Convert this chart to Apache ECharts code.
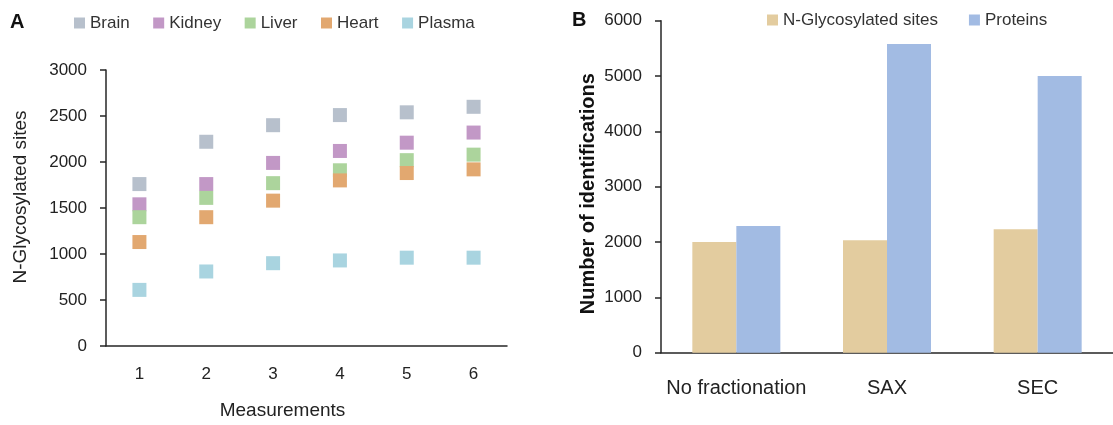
<!DOCTYPE html>
<html>
<head>
<meta charset="utf-8">
<style>
  html, body { margin: 0; padding: 0; background: #fff; }
  #chart { width: 1113px; height: 425px; }
</style>
<script src="https://cdn.jsdelivr.net/npm/echarts@6/dist/echarts.min.js"></script>
</head>
<body>
<div id="chart"></div>
<script>
// panel A: N-glycosylated sites per measurement
const measurements = ['1', '2', '3', '4', '5', '6']
const brain = [1760, 2220, 2400, 2510, 2540, 2600]
const kidney = [1540, 1760, 1990, 2120, 2210, 2320]
const liver = [1400, 1610, 1770, 1910, 2020, 2080]
const heart = [1130, 1400, 1580, 1800, 1880, 1920]
const plasma = [610, 810, 900, 930, 960, 960]

// panel B: identifications per fractionation method
const methods = ['No fractionation', 'SAX', 'SEC']
const glycoSites = [2000, 2030, 2230]
const proteins = [2290, 5580, 5000]

const FONT = 'Liberation Sans'
const AXIS_COLOR = '#262626'
const TEXT_COLOR = '#222'

const chart = echarts.init(document.getElementById('chart'))

const axisLine = { lineStyle: { color: AXIS_COLOR, width: 1.5 } }
const axisTick = { length: 6, lineStyle: { color: AXIS_COLOR, width: 1.5 } }
const plain = (v) => String(v) // no thousands separator

const scatterSeries = (name, data, color) => ({
  name,
  type: 'scatter',
  xAxisIndex: 0,
  yAxisIndex: 0,
  data,
  symbol: 'rect',
  symbolSize: 14,
  itemStyle: { color, opacity: 1 }
})

const option = {
  animation: false,
  backgroundColor: '#fff',
  textStyle: { fontFamily: FONT },
  title: [
    { text: 'A', left: 10, top: 12, padding: 0, textStyle: { fontFamily: FONT, fontSize: 20, fontWeight: 'bold', color: '#111' } },
    { text: 'B', left: 572, top: 10, padding: 0, textStyle: { fontFamily: FONT, fontSize: 20, fontWeight: 'bold', color: '#111' } }
  ],
  legend: [
    {
      data: ['Brain', 'Kidney', 'Liver', 'Heart', 'Plasma'],
      left: 74,
      top: 14.5,
      padding: 0,
      icon: 'rect',
      itemWidth: 11,
      itemHeight: 11,
      itemGap: 23.5,
      textStyle: { fontFamily: FONT, fontSize: 17, color: '#333' }
    },
    {
      data: ['N-Glycosylated sites', 'Proteins'],
      left: 767,
      top: 11.5,
      padding: 0,
      icon: 'rect',
      itemWidth: 11,
      itemHeight: 11,
      itemGap: 31,
      textStyle: { fontFamily: FONT, fontSize: 17, color: '#333' }
    }
  ],
  grid: [
    { left: 106, top: 70, width: 401, height: 282 },
    { left: 661, top: 20.7, width: 461, height: 332 }
  ],
  xAxis: [
    {
      gridIndex: 0,
      type: 'category',
      data: measurements,
      boundaryGap: true,
      axisLine,
      axisTick,
      axisLabel: { fontFamily: FONT, fontSize: 17, color: TEXT_COLOR, margin: 20, interval: 0 },
      name: 'Measurements',
      nameLocation: 'middle',
      nameGap: 55,
      nameTextStyle: { fontFamily: FONT, fontSize: 19, color: TEXT_COLOR, padding: [0, 48, 0, 0] }
    },
    {
      gridIndex: 1,
      type: 'category',
      data: methods,
      boundaryGap: true,
      axisLine,
      axisTick,
      axisLabel: { fontFamily: FONT, fontSize: 20, color: TEXT_COLOR, margin: 26, interval: 0, hideOverlap: false }
    }
  ],
  yAxis: [
    {
      gridIndex: 0,
      type: 'value',
      min: 0,
      max: 3000,
      interval: 500,
      axisLine: { show: true, ...axisLine },
      axisTick: { show: true, ...axisTick },
      splitLine: { show: false },
      axisLabel: { fontFamily: FONT, fontSize: 17, color: TEXT_COLOR, margin: 19, formatter: plain },
      name: 'N-Glycosylated sites',
      nameLocation: 'middle',
      nameGap: 76,
      nameTextStyle: { fontFamily: FONT, fontSize: 19, color: TEXT_COLOR, padding: [0, 0, 0, 22] }
    },
    {
      gridIndex: 1,
      type: 'value',
      min: 0,
      max: 6000,
      interval: 1000,
      axisLine: { show: true, ...axisLine },
      axisTick: { show: true, ...axisTick },
      splitLine: { show: false },
      axisLabel: { fontFamily: FONT, fontSize: 17, color: TEXT_COLOR, margin: 19, formatter: plain },
      name: 'Number of identifications',
      nameLocation: 'middle',
      nameGap: 63,
      nameTextStyle: { fontFamily: FONT, fontSize: 20, fontWeight: 'bold', color: '#111', padding: [0, 14, 0, 0] }
    }
  ],
  series: [
    scatterSeries('Brain', brain, '#b7c0cc'),
    scatterSeries('Kidney', kidney, '#c298c6'),
    scatterSeries('Liver', liver, '#acd49c'),
    scatterSeries('Heart', heart, '#e2a870'),
    scatterSeries('Plasma', plasma, '#a9d4e0'),
    {
      name: 'N-Glycosylated sites',
      type: 'bar',
      xAxisIndex: 1,
      yAxisIndex: 1,
      data: glycoSites,
      barWidth: 44,
      barGap: '0%',
      itemStyle: { color: '#e3cc9f' }
    },
    {
      name: 'Proteins',
      type: 'bar',
      xAxisIndex: 1,
      yAxisIndex: 1,
      data: proteins,
      barWidth: 44,
      barGap: '0%',
      itemStyle: { color: '#a2bbe3' }
    }
  ]
}

chart.setOption(option)
</script>
</body>
</html>
